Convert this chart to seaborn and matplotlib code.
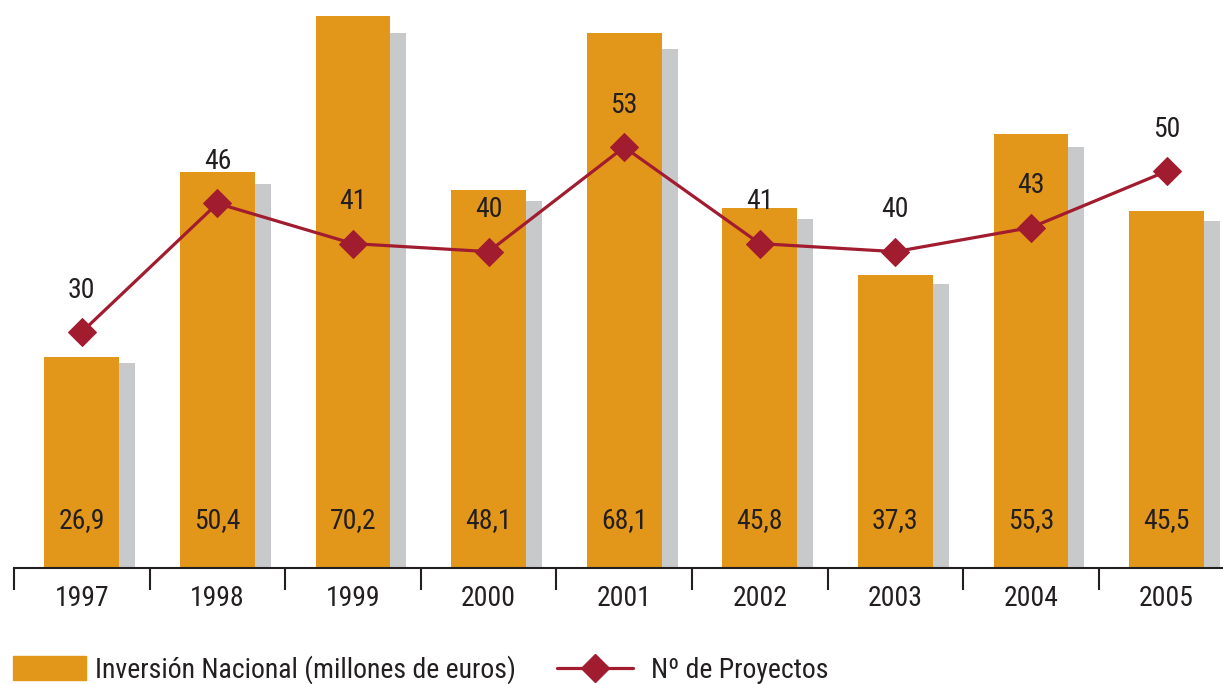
import numpy as np
import pandas as pd
import matplotlib
matplotlib.use('Agg')
import matplotlib.pyplot as plt
from matplotlib.patches import Patch
from matplotlib.lines import Line2D
import seaborn as sns

sns.set_theme(style='white')
plt.rcParams['font.family'] = ['Roboto Condensed', 'Liberation Sans', 'DejaVu Sans']

# Datos
anios = ['1997', '1998', '1999', '2000', '2001', '2002', '2003', '2004', '2005']
inversion = [26.9, 50.4, 70.2, 48.1, 68.1, 45.8, 37.3, 55.3, 45.5]
proyectos = [30, 46, 41, 40, 53, 41, 40, 43, 50]

NARANJA = '#E2971A'
GRIS = '#C8C9CB'
ROJO = '#A21C30'
TEXTO = '#231F20'
FS = 20

df = pd.DataFrame({'anio': anios, 'inversion': inversion, 'proyectos': proyectos})
pos = np.arange(len(anios))

fig = plt.figure(figsize=(12.23, 6.84), dpi=100)
ax = fig.add_axes([14 / 1223, 116 / 684, 1220.4 / 1223, 568 / 684])

# Barras con sombra gris
ax.bar(pos + 0.118, df['inversion'] * 0.97, width=0.553, color=GRIS,
       linewidth=0, zorder=1)
sns.barplot(data=df, x='anio', y='inversion', color=NARANJA, saturation=1,
            width=0.553, linewidth=0, ax=ax, zorder=2)
for i, v in enumerate(inversion):
    ax.text(i, 6.1, f'{v:.1f}'.replace('.', ','), ha='center', va='center',
            fontsize=FS, color=TEXTO, zorder=3)

ax.set_xlim(-0.5, 8.5)
ax.set_ylim(0, 72.3)
ax.set_xticks(pos)
ax.set_xticklabels(anios, fontsize=FS, color=TEXTO)
ax.set_xticks(pos - 0.5, minor=True)
ax.tick_params(axis='x', which='major', length=0, pad=12)
ax.tick_params(axis='x', which='minor', length=16, width=1.5, color=TEXTO,
               direction='out', bottom=True)
ax.set_yticks([])
ax.set_xlabel('')
ax.set_ylabel('')
for s in ['left', 'right', 'top']:
    ax.spines[s].set_visible(False)
ax.spines['bottom'].set_linewidth(1.5)
ax.spines['bottom'].set_color(TEXTO)

# Linea de proyectos
ax2 = ax.twinx()
sns.lineplot(x=pos, y=proyectos, marker='D', markersize=14, color=ROJO,
             linewidth=2.3, markeredgecolor=ROJO, ax=ax2)
ax2.set_ylim(0.65, 71.3)
ax2.set_axis_off()
for i, v in enumerate(proyectos):
    ax2.annotate(str(v), (i, v), xytext=(0, 30), textcoords='offset points',
                 ha='center', va='center', fontsize=FS, color=TEXTO)

# Leyenda
h1 = Patch(color=NARANJA)
h2 = Line2D([], [], color=ROJO, marker='D', markersize=14, linewidth=2.3)
fig.legend([h1], ['Inversión Nacional (millones de euros)'], loc='center left',
           bbox_to_anchor=(13 / 1223, 14 / 684), frameon=False, fontsize=FS,
           handlelength=2.63, handleheight=0.95, handletextpad=0.32,
           borderpad=0, borderaxespad=0, labelcolor=TEXTO)
fig.legend([h2], ['Nº de Proyectos'], loc='center left',
           bbox_to_anchor=(557 / 1223, 14 / 684), frameon=False, fontsize=FS,
           handlelength=2.73, handletextpad=0.65,
           borderpad=0, borderaxespad=0, labelcolor=TEXTO)

fig.savefig('out.png', dpi=100)
